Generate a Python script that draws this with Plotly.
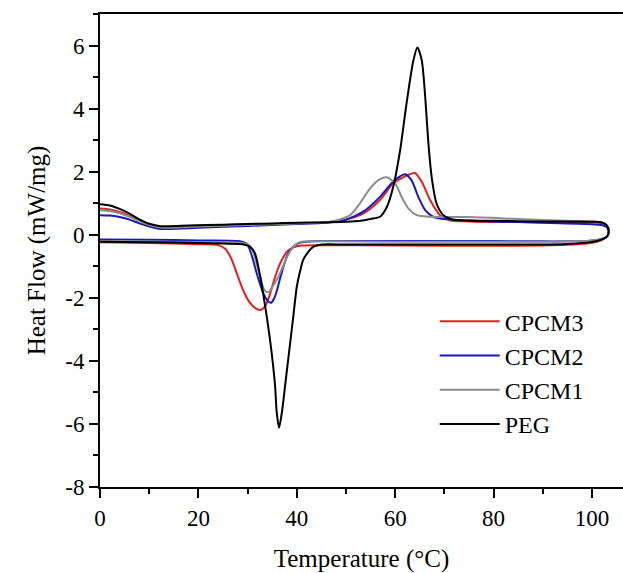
import plotly.graph_objects as go

# ---------------- data (temperature in °C, heat flow in mW/mg) ----------------
# heating (upper) then cooling (lower) branches for each sample
peg_heat_T = [0, 2, 4, 6, 8, 10, 12, 14, 18, 25, 30, 35, 40, 45, 50, 53, 55, 56.9, 58.3, 59.6, 61, 62.3, 63.7,
              64.5, 65.4, 66.1, 66.7, 67.4, 68.4, 69.8, 71.8, 75, 80, 90, 100, 102, 103, 103.4]
peg_heat_H = [0.97, 0.93, 0.82, 0.67, 0.49, 0.35, 0.28, 0.27, 0.29, 0.32, 0.34, 0.36, 0.38, 0.39, 0.41, 0.44, 0.5,
              0.57, 0.88, 1.52, 2.68, 4.16, 5.53, 5.94, 5.53, 4.37, 3.0, 1.84, 0.99, 0.62, 0.48, 0.45, 0.44, 0.42,
              0.41, 0.39, 0.3, 0.12]
peg_cool_T = [103.1, 102.3, 101, 99, 95, 90, 80, 70, 60, 50, 45, 43.4, 42.3, 41.3, 40.6, 40, 39.2, 38.4, 37.6, 37,
              36.4, 35.9, 35.6, 34.9, 34, 33.2, 32.4, 31.5, 30.5, 29, 25, 15, 5, 0]
peg_cool_H = [-0.04, -0.13, -0.2, -0.25, -0.29, -0.31, -0.31, -0.31, -0.31, -0.31, -0.31, -0.38, -0.55, -0.8, -1.2,
              -1.65, -2.71, -3.76, -4.82, -5.6, -6.12, -5.6, -4.82, -3.76, -2.71, -1.9, -1.2, -0.59, -0.38, -0.3,
              -0.28, -0.25, -0.23, -0.22]

c1_heat_T = [0, 2, 4, 6, 8, 10, 12, 14, 20, 30, 40, 45, 47, 49, 50.8, 52.8, 54.9, 56.9, 58.3, 60, 61.3, 62.7, 64.4,
             67, 75, 85, 95, 100, 102, 103, 103.4]
c1_heat_H = [0.78, 0.75, 0.68, 0.57, 0.43, 0.31, 0.24, 0.22, 0.26, 0.31, 0.36, 0.39, 0.42, 0.5, 0.62, 0.99, 1.47, 1.76,
             1.82, 1.63, 1.2, 0.83, 0.62, 0.57, 0.56, 0.5, 0.44, 0.42, 0.39, 0.3, 0.12]
c1_cool_T = [103.1, 102.3, 101, 99, 95, 90, 80, 60, 45, 41, 40.3, 39.2, 38.2, 37.2, 36.2, 35.2, 34.4, 33.9, 33.3,
             32.6, 31.8, 31, 30, 28, 25, 15, 0]
c1_cool_H = [-0.04, -0.12, -0.17, -0.2, -0.21, -0.22, -0.22, -0.22, -0.21, -0.22, -0.26, -0.4, -0.65, -1.0, -1.35,
             -1.62, -1.8, -1.82, -1.72, -1.35, -0.9, -0.5, -0.3, -0.25, -0.24, -0.22, -0.2]

c2_heat_T = [0, 2, 4, 6, 8, 10, 12, 14, 20, 30, 40, 45, 48, 50, 53.5, 56.9, 58.9, 60.3, 62, 63.3, 64.7, 66.1, 67.7,
             70.5, 75, 85, 95, 100, 102, 103, 103.4]
c2_heat_H = [0.62, 0.61, 0.56, 0.48, 0.36, 0.26, 0.19, 0.18, 0.22, 0.28, 0.34, 0.37, 0.42, 0.48, 0.73, 1.2, 1.57,
             1.78, 1.92, 1.73, 1.2, 0.78, 0.57, 0.49, 0.45, 0.4, 0.36, 0.33, 0.31, 0.24, 0.1]
c2_cool_T = [103.1, 102.3, 101, 99, 95, 90, 80, 60, 45, 41, 40, 39, 38.2, 37.4, 36.6, 35.9, 35.3, 34.7, 34, 33.2,
             32.5, 31.8, 31.2, 30.5, 29.8, 28, 20, 10, 0]
c2_cool_H = [-0.05, -0.12, -0.17, -0.2, -0.21, -0.21, -0.2, -0.2, -0.2, -0.24, -0.3, -0.43, -0.6, -0.95, -1.39, -1.8,
             -2.05, -2.16, -2.08, -1.86, -1.55, -1.2, -0.85, -0.5, -0.28, -0.2, -0.18, -0.16, -0.15]

c3_heat_T = [0, 2, 4, 6, 8, 10, 12, 14, 20, 30, 40, 45, 48, 50, 53.5, 56.9, 59.6, 61.6, 63, 64, 65.4, 67.1, 69.1,
             71.1, 75, 85, 95, 100, 102, 103, 103.4]
c3_heat_H = [0.83, 0.8, 0.72, 0.6, 0.45, 0.32, 0.24, 0.22, 0.26, 0.31, 0.36, 0.39, 0.43, 0.48, 0.67, 1.1, 1.63, 1.82,
             1.92, 1.96, 1.68, 1.1, 0.62, 0.46, 0.42, 0.4, 0.4, 0.39, 0.37, 0.28, 0.1]
c3_cool_T = [103.1, 102.3, 101, 99, 95, 90, 80, 60, 45, 41, 39.3, 37.9, 36.8, 36, 35.2, 34.3, 33.5, 32.6, 31.5,
             30.3, 29.2, 28.2, 27.3, 26.5, 25.5, 24, 20, 10, 0]
c3_cool_H = [-0.05, -0.14, -0.22, -0.28, -0.32, -0.34, -0.35, -0.34, -0.33, -0.34, -0.4, -0.55, -0.85, -1.15, -1.54,
             -2.0, -2.28, -2.39, -2.32, -2.12, -1.8, -1.4, -1.0, -0.7, -0.45, -0.33, -0.3, -0.26, -0.24]

series = [
    ("CPCM3", c3_heat_T, c3_heat_H, c3_cool_T, c3_cool_H, "#E3201F"),
    ("CPCM2", c2_heat_T, c2_heat_H, c2_cool_T, c2_cool_H, "#1717C4"),
    ("CPCM1", c1_heat_T, c1_heat_H, c1_cool_T, c1_cool_H, "#8C8C8C"),
    ("PEG", peg_heat_T, peg_heat_H, peg_cool_T, peg_cool_H, "#000000"),
]

x_ticks = [0, 20, 40, 60, 80, 100]
y_ticks = [-8, -6, -4, -2, 0, 2, 4, 6]

FONT = "Liberation Serif, Times New Roman, serif"

fig = go.Figure()
for name, hT, hH, cT, cH, col in series:
    fig.add_trace(go.Scatter(
        x=hT + cT, y=hH + cH, mode="lines", name=name,
        line=dict(color=col, width=2, shape="spline", smoothing=0.7),
    ))

fig.update_layout(
    width=623, height=573,
    margin=dict(l=100, r=0, t=14, b=86),
    paper_bgcolor="white", plot_bgcolor="white",
    font=dict(family=FONT, size=23, color="black"),
    showlegend=True,
    legend=dict(x=0.64, y=0.397, xanchor="left", yanchor="top",
                font=dict(family=FONT, size=24, color="black"),
                bgcolor="rgba(0,0,0,0)", itemwidth=60, tracegroupgap=0),
    xaxis=dict(
        range=[0, 106.3], tickvals=x_ticks, ticktext=[str(v) for v in x_ticks],
        showgrid=False, zeroline=False, showline=True, linecolor="black", linewidth=2,
        mirror=True, ticks="outside", ticklen=9, tickwidth=2, tickcolor="black",
        minor=dict(dtick=10, ticks="outside", ticklen=5, tickwidth=2, tickcolor="black"),
        title=dict(text="Temperature (°C)", font=dict(family=FONT, size=25), standoff=22),
        tickfont=dict(family=FONT, size=23),
    ),
    yaxis=dict(
        range=[-8, 7], tickvals=y_ticks, ticktext=[str(v) for v in y_ticks],
        showgrid=False, zeroline=False, showline=True, linecolor="black", linewidth=2,
        ticks="outside", ticklen=9, tickwidth=2, tickcolor="black",
        minor=dict(dtick=1, ticks="outside", ticklen=5, tickwidth=2, tickcolor="black"),
        title=dict(text="Heat Flow (mW/mg)", font=dict(family=FONT, size=25), standoff=12),
        tickfont=dict(family=FONT, size=23),
    ),
)

fig.write_html("out.html")
